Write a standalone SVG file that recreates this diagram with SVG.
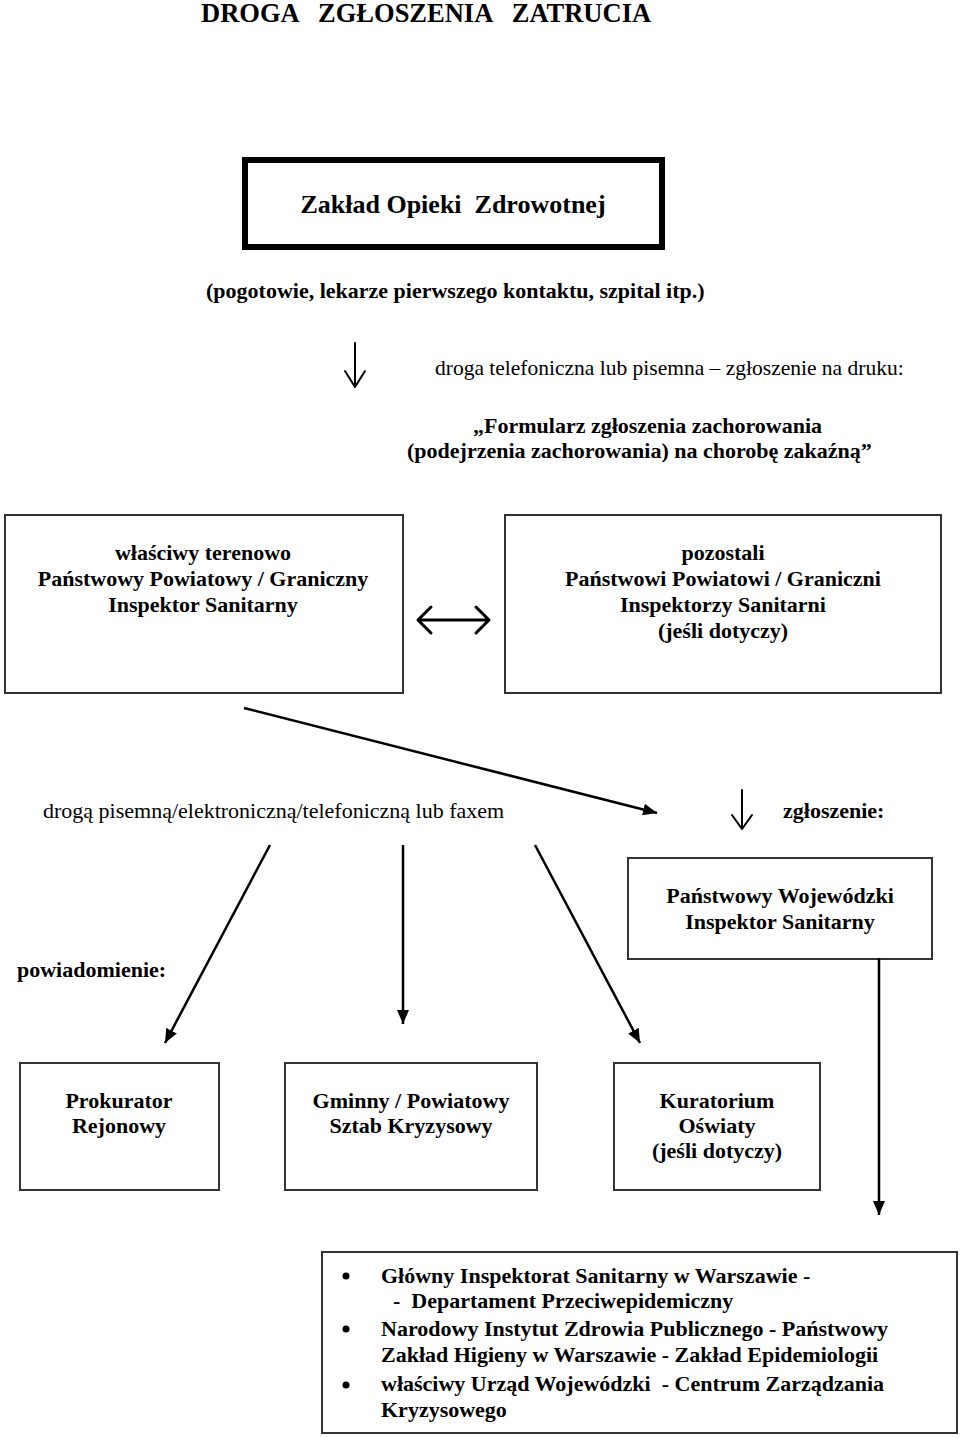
<svg xmlns="http://www.w3.org/2000/svg" width="960" height="1438" viewBox="0 0 960 1438">
<defs>
<style>
text{font-family:"Liberation Serif","Times New Roman",serif;fill:#000;white-space:pre}
.b{font-weight:bold;font-size:22px}
.r{font-size:21.5px}
.m{text-anchor:middle}
.box{fill:#fff;stroke:#333;stroke-width:2}
.ln{stroke:#000;stroke-width:2.5;fill:none}
.open{stroke:#000;stroke-width:2;fill:none;stroke-linecap:round;stroke-linejoin:round}
</style>
<marker id="ah" markerUnits="userSpaceOnUse" markerWidth="14" markerHeight="12" refX="14" refY="6" orient="auto">
<path d="M0,0 L14,6 L0,12 z" fill="#000"/>
</marker>
</defs>
<rect width="960" height="1438" fill="#fff"/>

<g id="title">
<text x="201" y="22" xml:space="preserve" style="font-weight:bold;font-size:26.5px">DROGA   ZGŁOSZENIA   ZATRUCIA</text>
</g>

<g id="zoz">
<rect x="245" y="160" width="417" height="87" fill="#fff" stroke="#000" stroke-width="6"/>
<text x="453" y="213" class="m" xml:space="preserve" style="font-weight:bold;font-size:26px">Zakład Opieki  Zdrowotnej</text>
<text x="206" y="298" class="b">(pogotowie, lekarze pierwszego kontaktu, szpital itp.)</text>
</g>

<g id="formularz">
<text x="435" y="375" class="r">droga telefoniczna lub pisemna – zgłoszenie na druku:</text>
<text x="473" y="433" class="b">„Formularz zgłoszenia zachorowania</text>
<text x="407" y="458" class="b">(podejrzenia zachorowania) na chorobę zakaźną”</text>
</g>

<g id="pis-wlasciwy">
<rect x="5" y="515" width="398" height="178" class="box"/>
<text x="203" y="560" class="b m">właściwy terenowo</text>
<text x="203" y="586" class="b m">Państwowy Powiatowy / Graniczny</text>
<text x="203" y="612" class="b m">Inspektor Sanitarny</text>
</g>

<g id="pis-pozostali">
<rect x="505" y="515" width="436" height="178" class="box"/>
<text x="723" y="560" class="b m">pozostali</text>
<text x="723" y="586" class="b m">Państwowi Powiatowi / Graniczni</text>
<text x="723" y="612" class="b m">Inspektorzy Sanitarni</text>
<text x="723" y="638" class="b m">(jeśli dotyczy)</text>
</g>

<g id="label-droga">
<text x="43" y="818" class="r" style="font-size:22px">drogą pisemną/elektroniczną/telefoniczną lub faxem</text>
</g>

<g id="label-zgloszenie">
<text x="783" y="818" class="b">zgłoszenie:</text>
</g>

<g id="wis">
<rect x="628" y="858" width="304" height="101" class="box"/>
<text x="780" y="903" class="b m">Państwowy Wojewódzki</text>
<text x="780" y="929" class="b m">Inspektor Sanitarny</text>
</g>

<g id="label-powiadomienie">
<text x="17" y="977" class="b">powiadomienie:</text>
</g>

<g id="prokurator">
<rect x="20" y="1063" width="199" height="127" class="box"/>
<text x="119" y="1108" class="b m">Prokurator</text>
<text x="119" y="1133" class="b m">Rejonowy</text>
</g>

<g id="sztab">
<rect x="285" y="1063" width="252" height="127" class="box"/>
<text x="411" y="1108" class="b m">Gminny / Powiatowy</text>
<text x="411" y="1133" class="b m">Sztab Kryzysowy</text>
</g>

<g id="kuratorium">
<rect x="614" y="1063" width="206" height="127" class="box"/>
<text x="717" y="1108" class="b m">Kuratorium</text>
<text x="717" y="1133" class="b m">Oświaty</text>
<text x="717" y="1158" class="b m">(jeśli dotyczy)</text>
</g>

<g id="centralne">
<rect x="322" y="1252" width="635" height="181" class="box"/>
<circle cx="346" cy="1276" r="3.5" fill="#000"/>
<circle cx="346" cy="1329" r="3.5" fill="#000"/>
<circle cx="346" cy="1385" r="3.5" fill="#000"/>
<text x="381" y="1283" class="b">Główny Inspektorat Sanitarny w Warszawie -</text>
<text x="393" y="1308" class="b" xml:space="preserve">-  Departament Przeciwepidemiczny</text>
<text x="381" y="1336" class="b">Narodowy Instytut Zdrowia Publicznego - Państwowy</text>
<text x="381" y="1362" class="b">Zakład Higieny w Warszawie - Zakład Epidemiologii</text>
<text x="381" y="1391" class="b" xml:space="preserve">właściwy Urząd Wojewódzki  - Centrum Zarządzania</text>
<text x="381" y="1417" class="b">Kryzysowego</text>
</g>

<g id="connectors">
<path class="open" d="M355,343 L355,387 M345,371 L355,387 L365,371"/>
<path class="open" d="M418,620 L489,620 M431,607 L418,620 L431,633 M476,607 L489,620 L476,633" style="stroke-width:3"/>
<line x1="244" y1="708" x2="657" y2="813" class="ln" marker-end="url(#ah)"/>
<path class="open" d="M742,790 L742,829 M732,815 L742,829 L752,815"/>
<line x1="270" y1="845" x2="165" y2="1043" class="ln" marker-end="url(#ah)"/>
<line x1="403" y1="845" x2="403" y2="1024" class="ln" marker-end="url(#ah)"/>
<line x1="535" y1="845" x2="640" y2="1043" class="ln" marker-end="url(#ah)"/>
<line x1="879" y1="958" x2="879" y2="1215" class="ln" marker-end="url(#ah)"/>
</g>
</svg>
